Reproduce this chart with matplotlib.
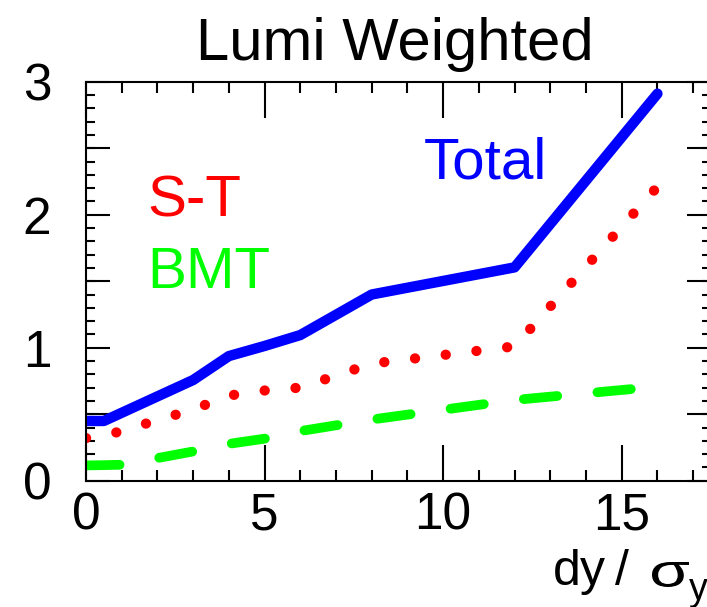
import matplotlib
matplotlib.use("Agg")
import matplotlib.pyplot as plt
from matplotlib.ticker import MultipleLocator
from matplotlib.textpath import TextPath
from matplotlib.patches import PathPatch
from matplotlib.font_manager import FontProperties
from matplotlib.transforms import Affine2D, IdentityTransform

plt.rcParams['font.family'] = ['Liberation Sans', 'DejaVu Sans']

# ---- data ----
x_total = [0, 0.5, 3, 4, 5, 6, 8, 12, 16]
y_total = [0.449, 0.449, 0.757, 0.937, 1.013, 1.095, 1.40, 1.604, 2.91]

x_st = [0, 0.5, 3, 4, 5, 6, 8, 12, 16]
y_st = [0.32, 0.335, 0.535, 0.64, 0.678, 0.70, 0.88, 1.01, 2.21]

x_bmt = [0, 0.5, 1, 3, 4, 5, 6, 8, 12, 16]
y_bmt = [0.115, 0.117, 0.12, 0.22, 0.277, 0.316, 0.373, 0.46, 0.607, 0.707]

title = "Lumi Weighted"
labels = ["Total", "S-T", "BMT"]
colors = ["#0000ff", "#ff0000", "#00ff00"]

W, H = 707, 607
fig = plt.figure(figsize=(W / 100, H / 100), dpi=100)
ax = fig.add_axes([86 / W, (H - 480.7) / H, 625 / W, 399 / H])

ax.plot(x_total, y_total, color=colors[0], lw=7.5, solid_capstyle='round',
        solid_joinstyle='round')
ax.plot(x_st, y_st, color=colors[1], lw=7.4, dashes=(0.01, 3.0),
        dash_capstyle='round')
ax.plot(x_bmt, y_bmt, color=colors[2], lw=7.0, dashes=(3.45, 4.15),
        dash_capstyle='round')

ax.set_xlim(0, 17.5)
ax.set_ylim(0, 3)

ax.xaxis.set_major_locator(MultipleLocator(5))
ax.xaxis.set_minor_locator(MultipleLocator(1))
ax.yaxis.set_major_locator(MultipleLocator(1))
ax.yaxis.set_minor_locator(MultipleLocator(0.1))

for s in ax.spines.values():
    s.set_linewidth(1.5)

ax.tick_params(axis='both', which='both', direction='in', top=True, right=True,
               width=1.5, colors='black')
ax.tick_params(axis='x', which='major', length=26, labelsize=37, pad=8)
ax.tick_params(axis='x', which='minor', length=8)
ax.tick_params(axis='y', which='major', length=0, labelsize=37, pad=25)
ax.tick_params(axis='y', which='minor', length=6.5)

# longer ticks every 0.5 on the y axis (left and right)
sec = ax.secondary_yaxis('left')
sec.yaxis.set_major_locator(MultipleLocator(0.5))
sec.tick_params(axis='y', which='major', direction='in', length=17, width=1.5,
                labelleft=False)
sec.spines['left'].set_visible(False)
sec2 = ax.secondary_yaxis('right')
sec2.yaxis.set_major_locator(MultipleLocator(0.5))
sec2.tick_params(axis='y', which='major', direction='in', length=17, width=1.5,
                 labelright=False)
sec2.spines['right'].set_visible(False)

ax.text(9.45, 2.274, labels[0], color=colors[0], fontsize=42, va='baseline')
ax.text(1.71, 1.983, labels[1], color=colors[1], fontsize=42, va='baseline')
ax.text(1.71, 1.449, labels[2], color=colors[2], fontsize=42, va='baseline')

fig.text(395 / W, (H - 60) / H, title, ha='center', va='baseline', fontsize=43)

# x-axis title: "dy/ σ_y"
fig.text(553 / W, (H - 585) / H, "d", ha='left', va='baseline', fontsize=36)
fig.text(580 / W, (H - 585) / H, "y", ha='left', va='baseline', fontsize=36)
fig.text(615 / W, (H - 585) / H, "/", ha='left', va='baseline', fontsize=36)
sig_fp = FontProperties(family='Liberation Sans', size=36)
tp = TextPath((0, 0), "σ", prop=sig_fp, size=36 * 100 / 72)
bb = tp.get_extents()
sx = 37 / bb.width
sy = 25 / bb.height
tr = (Affine2D().translate(-bb.x0, -bb.y0).scale(sx, sy)
      .translate(652, H - 587))
patch = PathPatch(tr.transform_path(tp), facecolor='black', lw=0)
patch.set_transform(IdentityTransform())
fig.patches.append(patch)
fig.text(689 / W, (H - 600) / H, "y", ha='left', va='baseline', fontsize=27)

fig.savefig("out.png", dpi=100)
